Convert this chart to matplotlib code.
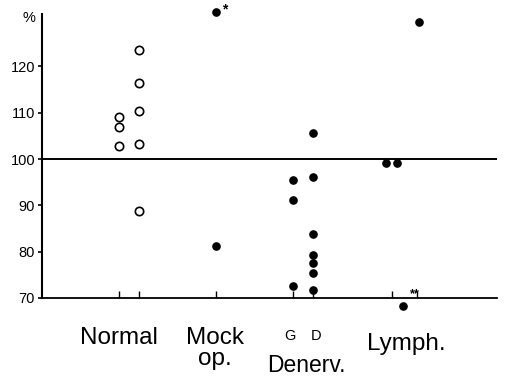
import numpy as np
import matplotlib
matplotlib.use("Agg")
import matplotlib.pyplot as plt

# values (% of control)
normal_a = [109.1, 106.9, 102.8]
normal_b = [123.6, 116.4, 110.4, 103.3, 88.8]
mock = [131.8, 81.2]
gd_g = [95.5, 91.2, 72.6]
gd_d = [105.6, 96.1, 83.8, 79.3, 77.6, 75.4, 71.7]
lymph = [99.2, 99.2, 129.6, 68.3]

yticks = [70, 80, 90, 100, 110, 120]

# column positions (group index + offset)
x_normal_a, x_normal_b = 0.885, 1.115
x_mock = 2.0
x_g, x_d = 2.875, 3.105
x_lymph = [3.95, 4.07, 4.32, 4.14]
x_ticks = [0.885, 1.115, 2.0, 2.875, 3.105, 4.02, 4.30]

plain = ['Liberation Sans', 'DejaVu Sans']

fig = plt.figure(figsize=(5.07, 3.81), dpi=100)
ax = fig.add_axes([42 / 507, 83 / 381, 455 / 507, 284 / 381])

ax.set_xlim(0, 5.22)
ax.set_ylim(70, 131.3)

# reference line at 100 %
ax.axhline(100, color='black', lw=1.4, zorder=1)

ms_open = 6.0
ms_fill = 5.2
ax.plot([x_normal_a] * len(normal_a), normal_a, 'o', mfc='white', mec='black',
        mew=1.2, ms=ms_open, clip_on=False, zorder=3)
ax.plot([x_normal_b] * len(normal_b), normal_b, 'o', mfc='white', mec='black',
        mew=1.2, ms=ms_open, clip_on=False, zorder=3)
ax.plot([x_mock] * len(mock), mock, 'o', color='black', ms=ms_fill,
        clip_on=False, zorder=3)
ax.plot([x_g] * len(gd_g), gd_g, 'o', color='black', ms=ms_fill,
        clip_on=False, zorder=3)
ax.plot([x_d] * len(gd_d), gd_d, 'o', color='black', ms=ms_fill,
        clip_on=False, zorder=3)
ax.plot(x_lymph, lymph, 'o', color='black', ms=ms_fill, clip_on=False, zorder=3)

# asterisks
ax.text(x_mock + 0.07, mock[0] + 0.4, '*', fontsize=10, fontweight='bold',
        ha='left', va='center', family=plain)
ax.text(x_lymph[3] + 0.08, lymph[3] + 2.6, '**', fontsize=9, fontweight='bold',
        ha='left', va='center', family=plain)

# axes styling
for s in ['top', 'right']:
    ax.spines[s].set_visible(False)
ax.spines['left'].set_linewidth(1.5)
ax.spines['bottom'].set_linewidth(1.3)

ax.set_yticks(yticks)
ax.set_yticklabels([str(v) for v in yticks], fontsize=10.5, family=plain)
ax.tick_params(axis='y', direction='out', length=3, width=1.2, pad=2)
ax.text(-0.015, 130.5, '%', transform=ax.get_yaxis_transform(), ha='right',
        va='center', fontsize=10.5, family=plain)

ax.set_xticks(x_ticks)
ax.set_xticklabels([])
ax.tick_params(axis='x', direction='in', length=5, width=1.0)

# category labels
tr = ax.get_xaxis_transform()
ax.text(0.885, -0.162, 'Normal', transform=tr, ha='center', va='baseline',
        fontsize=17.5, family=plain)
ax.text(1.99, -0.162, 'Mock', transform=tr, ha='center', va='baseline',
        fontsize=17.5, family=plain)
ax.text(1.98, -0.236, 'op.', transform=tr, ha='center', va='baseline',
        fontsize=17.5, family=plain)
ax.text(x_g - 0.03, -0.148, 'G', transform=tr, ha='center', va='baseline',
        fontsize=10.5, family=plain)
ax.text(x_d + 0.04, -0.148, 'D', transform=tr, ha='center', va='baseline',
        fontsize=10.5, family=plain)
ax.text(3.03, -0.261, 'Denerv.', transform=tr, ha='center', va='baseline',
        fontsize=16.5, family=plain)
ax.text(4.18, -0.183, 'Lymph.', transform=tr, ha='center', va='baseline',
        fontsize=17.5, family=plain)

fig.savefig('out.png', dpi=100)
